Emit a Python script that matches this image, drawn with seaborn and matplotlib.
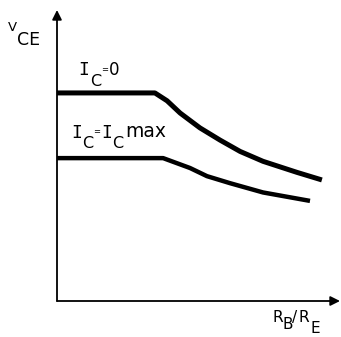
import matplotlib
matplotlib.use("Agg")
import matplotlib.pyplot as plt
import seaborn as sns
import pandas as pd

# Data (arbitrary units, axes 0..10)
x_ic0 = [0.0, 3.46, 3.89, 4.35, 5.05, 5.76, 6.47, 7.28, 8.48, 9.36]
y_ic0 = [7.15, 7.15, 6.88, 6.46, 5.95, 5.53, 5.14, 4.80, 4.42, 4.16]
x_icmax = [0.0, 3.75, 4.70, 5.30, 6.11, 7.28, 8.94]
y_icmax = [4.91, 4.91, 4.57, 4.29, 4.05, 3.73, 3.44]

df0 = pd.DataFrame({"x": x_ic0, "y": y_ic0})
df1 = pd.DataFrame({"x": x_icmax, "y": y_icmax})

sns.set_style("white")
plt.rcParams["font.family"] = ["DejaVu Sans"]

W, H = 341, 337
fig = plt.figure(figsize=(W / 100, H / 100), dpi=100)
ax = fig.add_axes([57 / W, 36 / H, 283 / W, 291 / H])

sns.lineplot(data=df0, x="x", y="y", ax=ax, color="black", lw=3.6,
             solid_capstyle="butt", solid_joinstyle="round", sort=False)
sns.lineplot(data=df1, x="x", y="y", ax=ax, color="black", lw=3.2,
             solid_capstyle="butt", solid_joinstyle="round", sort=False)

ax.set_xlim(0, 10)
ax.set_ylim(0, 10)
ax.set_xticks([])
ax.set_yticks([])
ax.set_xlabel("")
ax.set_ylabel("")
for s in ax.spines.values():
    s.set_visible(False)
ax.patch.set_alpha(0)

arrow = dict(arrowstyle="-|>", lw=1.3, color="black", mutation_scale=14,
             shrinkA=0, shrinkB=0)
ax.annotate("", xy=(1.0, 0), xytext=(0, 0), xycoords="axes fraction",
            arrowprops=arrow, annotation_clip=False)
ax.annotate("", xy=(0, 1.0), xytext=(0, 0), xycoords="axes fraction",
            arrowprops=arrow, annotation_clip=False)


def t(px, py, s, size, family="DejaVu Sans"):
    fig.text(px / W, 1 - py / H, s, fontsize=size, ha="left",
             va="baseline", family=family, color="black")


# V_CE
t(8, 31, "V", 9.5)
t(17, 45, "CE", 12.5)
# I_C = 0
t(78, 75, "I", 13, "DejaVu Sans Mono")
t(90, 86, "C", 11.5)
t(101, 72, "=", 6)
t(109, 75, "0", 12)
# I_C = I_C max
t(71, 138, "I", 13, "DejaVu Sans Mono")
t(82, 148, "C", 11.5)
t(93.5, 134, "=", 6)
t(101.5, 138, "I", 13, "DejaVu Sans Mono")
t(112.5, 148, "C", 11.5)
t(125, 137, "max", 13.5)
# R_B / R_E
t(272, 322, "R", 11)
t(282, 329, "B", 11)
t(292, 322, "/", 11)
t(298, 322, "R", 11)
t(310, 333, "E", 11)

fig.savefig("out.png", dpi=100)
